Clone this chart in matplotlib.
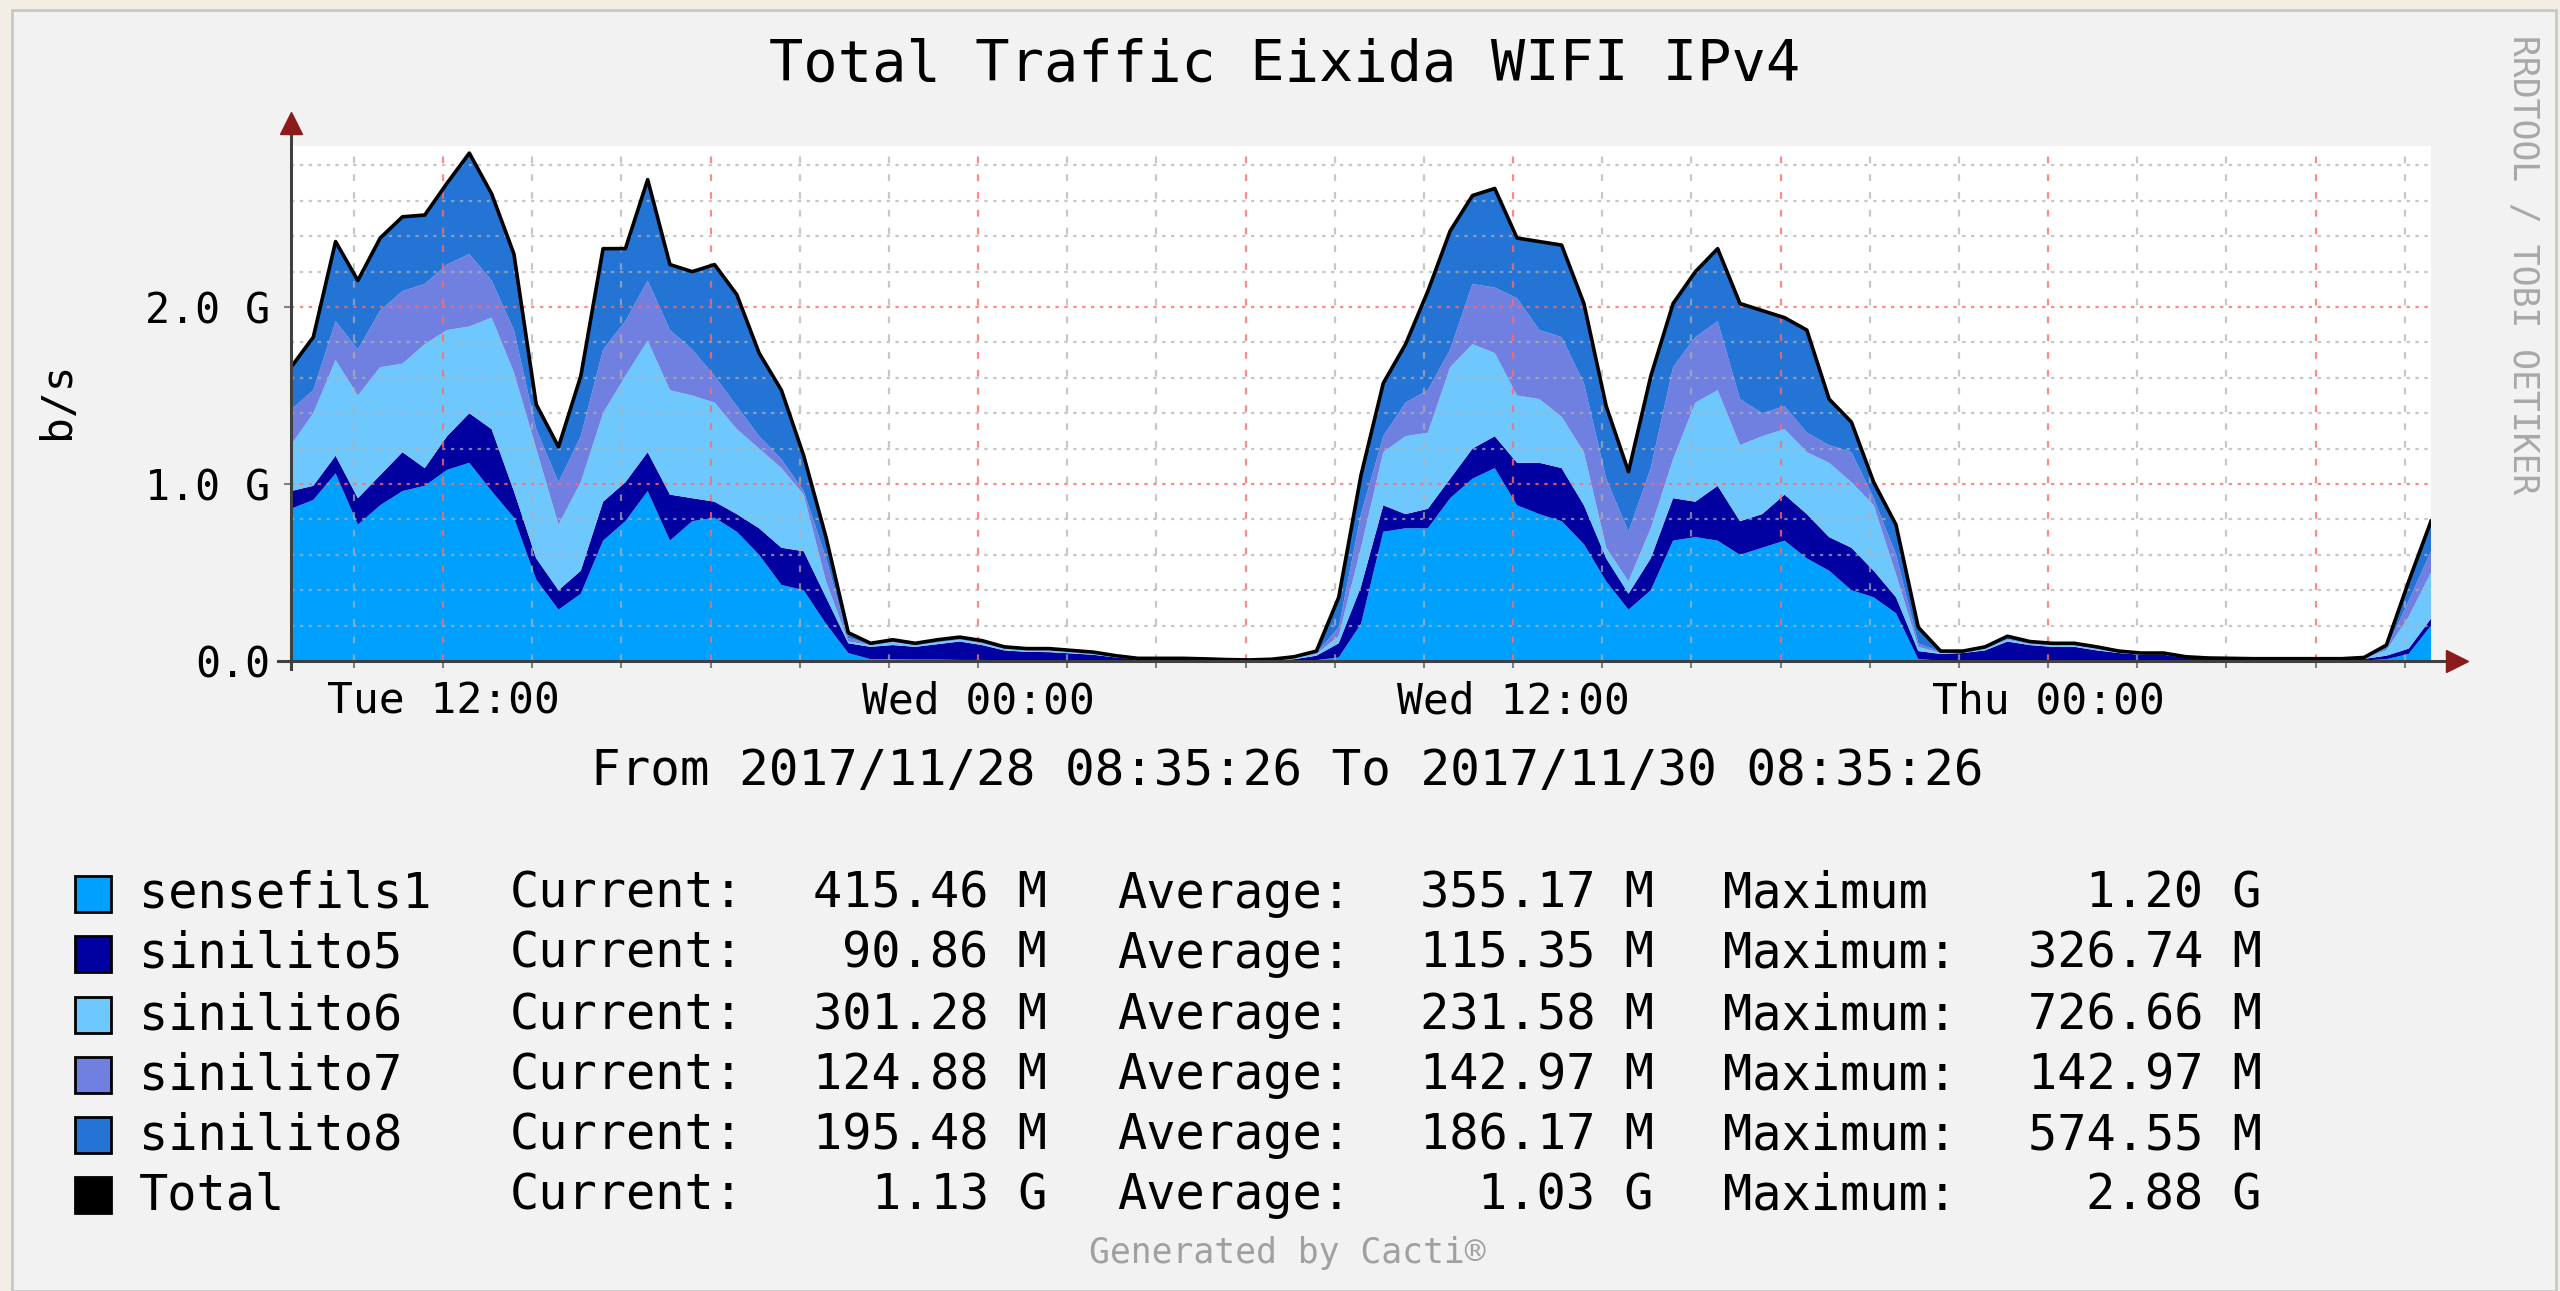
import numpy as np
import matplotlib
matplotlib.use('Agg')
import matplotlib.pyplot as plt
from matplotlib.patches import Rectangle

W, H = 2560, 1291

# hours since 2017/11/28 08:35:26, one reading every half hour (values in Gb/s)
hours = np.arange(0, 48.5, 0.5)

sensefils1 = [0.86, 0.91, 1.06, 0.77, 0.88, 0.96, 0.99, 1.08, 1.12, 0.96,
              0.81, 0.46, 0.29, 0.38, 0.68, 0.79, 0.96, 0.68, 0.79, 0.81,
              0.73, 0.60, 0.43, 0.40, 0.21, 0.045, 0.01, 0.01, 0.008, 0.008,
              0.006, 0.006, 0.005, 0.005, 0.004, 0.004, 0.003, 0.003, 0.002, 0.002,
              0.002, 0.002, 0.002, 0.002, 0.002, 0.003, 0.005, 0.02, 0.21, 0.73,
              0.75, 0.75, 0.92, 1.03, 1.09, 0.88, 0.83, 0.79, 0.66, 0.45,
              0.29, 0.40, 0.68, 0.70, 0.68, 0.60, 0.64, 0.68, 0.58, 0.51,
              0.40, 0.36, 0.27, 0.01, 0.003, 0.003, 0.003, 0.003, 0.003, 0.003,
              0.003, 0.003, 0.003, 0.003, 0.003, 0.002, 0.002, 0.002, 0.002, 0.002,
              0.002, 0.002, 0.002, 0.003, 0.01, 0.04, 0.20]
sinilito5 = [0.10, 0.08, 0.10, 0.15, 0.17, 0.22, 0.10, 0.19, 0.28, 0.35,
             0.15, 0.12, 0.11, 0.13, 0.22, 0.22, 0.22, 0.26, 0.13, 0.09,
             0.10, 0.15, 0.21, 0.22, 0.15, 0.055, 0.07, 0.08, 0.072, 0.087,
             0.104, 0.084, 0.055, 0.047, 0.046, 0.039, 0.032, 0.017, 0.007, 0.007,
             0.007, 0.006, 0.003, 0.002, 0.003, 0.007, 0.025, 0.08, 0.21, 0.15,
             0.08, 0.11, 0.11, 0.17, 0.18, 0.24, 0.29, 0.30, 0.22, 0.13,
             0.09, 0.18, 0.24, 0.20, 0.31, 0.19, 0.19, 0.26, 0.25, 0.19,
             0.24, 0.15, 0.09, 0.046, 0.037, 0.042, 0.057, 0.107, 0.087, 0.077,
             0.077, 0.057, 0.042, 0.032, 0.032, 0.016, 0.010, 0.008, 0.007, 0.007,
             0.007, 0.007, 0.007, 0.009, 0.02, 0.03, 0.04]
sinilito6 = [0.26, 0.41, 0.54, 0.58, 0.61, 0.50, 0.70, 0.60, 0.49, 0.63,
             0.67, 0.62, 0.37, 0.50, 0.50, 0.60, 0.63, 0.59, 0.58, 0.56,
             0.48, 0.45, 0.45, 0.32, 0.09, 0.01, 0.01, 0.015, 0.01, 0.01,
             0.01, 0.01, 0.008, 0.008, 0.01, 0.007, 0.007, 0.005, 0.003, 0.003,
             0.003, 0.002, 0.001, 0.001, 0.002, 0.005, 0.01, 0.04, 0.22, 0.30,
             0.44, 0.43, 0.63, 0.59, 0.47, 0.38, 0.36, 0.29, 0.30, 0.06,
             0.07, 0.17, 0.22, 0.56, 0.54, 0.43, 0.44, 0.37, 0.35, 0.42,
             0.37, 0.37, 0.13, 0.024, 0.005, 0.005, 0.008, 0.01, 0.005, 0.008,
             0.008, 0.008, 0.005, 0.003, 0.003, 0.002, 0.002, 0.002, 0.002, 0.002,
             0.002, 0.002, 0.002, 0.004, 0.03, 0.18, 0.26]
sinilito7 = [0.20, 0.13, 0.22, 0.26, 0.32, 0.41, 0.34, 0.37, 0.41, 0.21,
             0.24, 0.11, 0.24, 0.26, 0.36, 0.31, 0.34, 0.34, 0.26, 0.15,
             0.13, 0.07, 0.05, 0.02, 0.13, 0.02, 0.005, 0.005, 0.005, 0.005,
             0.005, 0.005, 0.004, 0.003, 0.003, 0.004, 0.003, 0.002, 0.001, 0.001,
             0.001, 0.001, 0.001, 0.0, 0.001, 0.005, 0.005, 0.05, 0.19, 0.09,
             0.19, 0.24, 0.10, 0.34, 0.37, 0.55, 0.39, 0.45, 0.39, 0.39,
             0.28, 0.34, 0.52, 0.37, 0.39, 0.26, 0.13, 0.13, 0.11, 0.10,
             0.17, 0.04, 0.11, 0.02, 0.005, 0.002, 0.004, 0.005, 0.005, 0.004,
             0.004, 0.004, 0.002, 0.002, 0.002, 0.002, 0.001, 0.001, 0.001, 0.001,
             0.001, 0.001, 0.001, 0.002, 0.01, 0.09, 0.12]
sinilito8 = [0.24, 0.30, 0.45, 0.39, 0.41, 0.42, 0.39, 0.46, 0.57, 0.49,
             0.43, 0.14, 0.20, 0.34, 0.57, 0.41, 0.57, 0.37, 0.44, 0.63,
             0.63, 0.47, 0.39, 0.20, 0.12, 0.03, 0.005, 0.01, 0.005, 0.01,
             0.01, 0.01, 0.008, 0.007, 0.007, 0.006, 0.005, 0.003, 0.002, 0.002,
             0.002, 0.001, 0.001, 0.001, 0.002, 0.004, 0.011, 0.17, 0.22, 0.30,
             0.33, 0.56, 0.67, 0.50, 0.56, 0.34, 0.50, 0.52, 0.45, 0.41,
             0.34, 0.52, 0.36, 0.37, 0.41, 0.54, 0.58, 0.50, 0.58, 0.26,
             0.17, 0.09, 0.17, 0.09, 0.006, 0.004, 0.008, 0.015, 0.01, 0.008,
             0.008, 0.008, 0.004, 0.005, 0.005, 0.002, 0.002, 0.002, 0.001, 0.001,
             0.001, 0.001, 0.001, 0.002, 0.02, 0.11, 0.17]

series_names = ['sensefils1', 'sinilito5', 'sinilito6', 'sinilito7', 'sinilito8']
series_colors = ['#00A0FF', '#0000A0', '#6EC8FE', '#7080E0', '#2474D6']

# legend table
legend_names = series_names + ['Total']
legend_colors = series_colors + ['#000000']
current_vals = ['415.46 M', '90.86 M', '301.28 M', '124.88 M', '195.48 M', '1.13 G']
average_vals = ['355.17 M', '115.35 M', '231.58 M', '142.97 M', '186.17 M', '1.03 G']
max_labels = ['Maximum', 'Maximum:', 'Maximum:', 'Maximum:', 'Maximum:', 'Maximum:']
maximum_vals = ['1.20 G', '326.74 M', '726.66 M', '142.97 M', '574.55 M', '2.88 G']

x_labels = ['Tue 12:00', 'Wed 00:00', 'Wed 12:00', 'Thu 00:00']
y_ticks = [0, 1, 2]
y_labels = ['0.0', '1.0 G', '2.0 G']

start_clock = 8 + 35 / 60 + 26 / 3600   # 08:35:26

plt.rcParams['font.family'] = ['DejaVu Sans Mono', 'DejaVu Sans']


def fx(x):
    return x / W


def fy(y):
    return 1 - y / H


fig = plt.figure(figsize=(W / 100, H / 100), dpi=100, facecolor='#F2EEE6')
# the cacti panel (behind the axes)
fig.patches.append(Rectangle((fx(12), 0), fx(2556) - fx(12), fy(10),
                             transform=fig.transFigure, facecolor='#F2F2F2',
                             edgecolor='#C8C8C8', linewidth=2, zorder=-5))

ax = fig.add_axes([fx(291), fy(661), fx(2431) - fx(291), fy(146) - fy(661)])
ax.set_facecolor('white')

total = np.sum([sensefils1, sinilito5, sinilito6, sinilito7, sinilito8], axis=0)
ax.stackplot(hours, sensefils1, sinilito5, sinilito6, sinilito7, sinilito8,
             colors=series_colors, linewidth=0, zorder=2)
ax.plot(hours, total, color='black', linewidth=2.6, zorder=4)

ax.set_xlim(0, 48)
ax.set_ylim(0, 2.91)

# grid, rrdtool style
for v in np.arange(0.2, 2.91, 0.2):
    if abs(v - round(v)) < 1e-6:
        ax.axhline(v, color='#FF6A6A', lw=1.6, ls=(0, (1.5, 2.5)), alpha=0.8, zorder=3)
    else:
        ax.axhline(v, color='#B0B0B0', lw=1.6, ls=(0, (1.5, 2.5)), alpha=0.7, zorder=3)

minor_x = np.arange(10 - start_clock, 48, 2)
major_x = np.arange(12 - start_clock, 48, 6)
label_x = np.arange(12 - start_clock, 48, 12)
for t in minor_x:
    if np.min(np.abs(major_x - t)) < 1e-6:
        continue
    ax.axvline(t, color='#B0B0B0', lw=1.6, ls=(0, (3, 5)), alpha=0.7, zorder=3)
for t in major_x:
    ax.axvline(t, color='#FF6A6A', lw=1.6, ls=(0, (3, 5)), alpha=0.8, zorder=3)

ax.set_xticks(label_x)
ax.set_xticklabels(x_labels, fontsize=31)
ax.set_xticks(minor_x, minor=True)
ax.set_yticks(y_ticks)
ax.set_yticklabels(y_labels, fontsize=30)
ax.tick_params(axis='both', which='both', length=5, width=1.5, color='#808080')
ax.tick_params(axis='x', pad=9)
ax.tick_params(axis='y', pad=10)

for s in ['top', 'right', 'left', 'bottom']:
    ax.spines[s].set_visible(False)

# axes with arrow heads
ax.plot([0, 0], [-0.015, 1.045], transform=ax.transAxes, color='#404040',
        lw=2.2, clip_on=False, zorder=5)
ax.plot([-0.006, 1.01], [0, 0], transform=ax.transAxes, color='#404040',
        lw=2.2, clip_on=False, zorder=5)
ax.plot([0], [1.045], transform=ax.transAxes, marker='^', ms=16, color='#8B1A1A',
        clip_on=False, zorder=6)
ax.plot([1.012], [0], transform=ax.transAxes, marker='>', ms=16, color='#8B1A1A',
        clip_on=False, zorder=6)

fig.text(fx(1285), fy(65), 'Total Traffic Eixida WIFI IPv4', fontsize=41,
         ha='center', va='center', color='#000000')
fig.text(fx(57), fy(400), 'b/s', fontsize=31, rotation=90, ha='center', va='center')
fig.text(fx(1287), fy(771), 'From 2017/11/28 08:35:26 To 2017/11/30 08:35:26',
         fontsize=35.5, ha='center', va='center')
fig.text(fx(2523), fy(265), 'RRDTOOL / TOBI OETIKER', fontsize=25, rotation=270,
         ha='center', va='center', color='#A8A8A8')
fig.text(fx(1287), fy(1253), 'Generated by Cacti\u00ae', fontsize=25,
         ha='center', va='center', color='#A0A0A0')

row_y = [894, 954, 1015, 1075, 1135, 1195]
for i, name in enumerate(legend_names):
    y = row_y[i]
    fig.patches.append(Rectangle((fx(75), fy(y + 18)), fx(36), 36 / H,
                                 transform=fig.transFigure,
                                 facecolor=legend_colors[i], edgecolor='#000000',
                                 linewidth=2, zorder=3))
    fig.text(fx(139), fy(y), name, fontsize=35, ha='left', va='center')
    fig.text(fx(510), fy(y), 'Current:', fontsize=35, ha='left', va='center')
    fig.text(fx(1047), fy(y), current_vals[i], fontsize=35, ha='right', va='center')
    fig.text(fx(1117), fy(y), 'Average:', fontsize=35, ha='left', va='center')
    fig.text(fx(1654), fy(y), average_vals[i], fontsize=35, ha='right', va='center')
    fig.text(fx(1723), fy(y), max_labels[i], fontsize=35, ha='left', va='center')
    fig.text(fx(2262), fy(y), maximum_vals[i], fontsize=35, ha='right', va='center')

fig.savefig('out.png', dpi=100, facecolor=fig.get_facecolor())
